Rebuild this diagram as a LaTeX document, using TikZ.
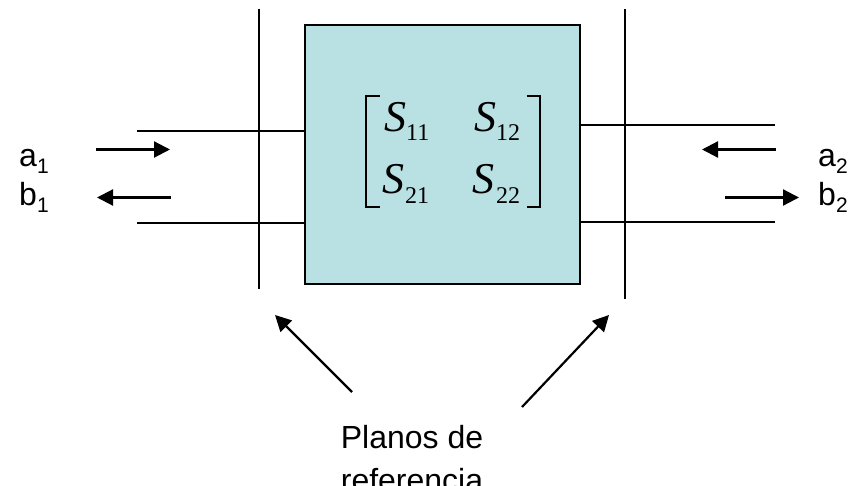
\documentclass[tikz,border=0pt]{standalone}
\usepackage{fontspec}
\setmainfont{Liberation Sans}
\newfontfamily\timesf{Liberation Serif}
\usetikzlibrary{arrows.meta}
\definecolor{boxfill}{HTML}{B9E0E3}
\tikzset{
  wire/.style={line width=1.8pt,black},
  sigarrow/.style={line width=2.2pt,black,-{Triangle[length=16pt,width=16pt]}},
  lab/.style={inner sep=0pt,anchor=base west,font=\fontsize{32}{32}\selectfont},
  subl/.style={inner sep=0pt,anchor=base west,font=\fontsize{21}{21}\selectfont},
  ess/.style={inner sep=0pt,anchor=base west,font=\timesf\itshape\fontsize{44}{44}\selectfont},
  subs/.style={inner sep=0pt,anchor=base west,font=\timesf\fontsize{24}{24}\selectfont},
  brk/.style={line width=1.6pt,black,line cap=butt},
  capt/.style={inner sep=0pt,anchor=base,font=\fontsize{32}{32}\selectfont}
}
\begin{document}
\begin{tikzpicture}[x=1pt,y=-1pt]
\useasboundingbox (0,0) rectangle (854,486);
\clip (0,0) rectangle (854,486);
\node[draw=black,line width=2pt,fill=boxfill,minimum width=275pt,minimum height=259pt,inner sep=0pt,anchor=north west] (box) at (303.8,24.5) {};
% reference planes
\coordinate (p1t) at (259,9); \coordinate (p1b) at (259,289);
\coordinate (p2t) at (625,9); \coordinate (p2b) at (625,299);
\draw[wire] (p1t) -- (p1b);
\draw[wire] (p2t) -- (p2b);
% ports
\coordinate (l1) at (137,131); \coordinate (l1e) at (305,131);
\coordinate (l2) at (137,223); \coordinate (l2e) at (305,223);
\coordinate (r1) at (775,125); \coordinate (r1e) at (580,125);
\coordinate (r2) at (775,222); \coordinate (r2e) at (580,222);
\draw[wire] (l1) -- (l1e);
\draw[wire] (l2) -- (l2e);
\draw[wire] (r1) -- (r1e);
\draw[wire] (r2) -- (r2e);
% wave arrows
\coordinate (a1s) at (96,149.5); \coordinate (a1e) at (170,149.5);
\coordinate (b1s) at (171,197.5); \coordinate (b1e) at (97,197.5);
\coordinate (a2s) at (776,149.5); \coordinate (a2e) at (702,149.5);
\coordinate (b2s) at (725,197.5); \coordinate (b2e) at (799,197.5);
\draw[sigarrow] (a1s) -- (a1e);
\draw[sigarrow] (b1s) -- (b1e);
\draw[sigarrow] (a2s) -- (a2e);
\draw[sigarrow] (b2s) -- (b2e);
% labels
\node[lab] (la1) at (19,167) {a};
\node[subl] (la1s) at (37,174) {1};
\node[lab] (lb1) at (19,206) {b};
\node[subl] (lb1s) at (37,213) {1};
\node[lab] (la2) at (818,167) {a};
\node[subl] (la2s) at (836,174) {2};
\node[lab] (lb2) at (818,206) {b};
\node[subl] (lb2s) at (836,213) {2};
% matrix
\node[ess] (s11) at (384,132) {S};
\node[subs] (s11s) at (406,141) {11};
\node[ess] (s12) at (474,132) {S};
\node[subs] (s12s) at (496,141) {12};
\node[ess] (s21) at (382,194) {S};
\node[subs] (s21s) at (405,204) {21};
\node[ess] (s22) at (472,194) {S};
\node[subs] (s22s) at (496,204) {22};
\draw[brk] (379.5,96) -- (366,96) -- (366,207) -- (379.5,207);
\draw[brk] (526.5,96) -- (540,96) -- (540,207) -- (526.5,207);
% caption
\node[capt] (c1) at (412,448) {Planos de};
\node[capt] (c2) at (412,491) {referencia};
\coordinate (d1s) at (352,392); \coordinate (d1e) at (275,315);
\coordinate (d2s) at (522,407); \coordinate (d2e) at (609,315);
\draw[sigarrow] (d1s) -- (d1e);
\draw[sigarrow] (d2s) -- (d2e);
\end{tikzpicture}
\end{document}
